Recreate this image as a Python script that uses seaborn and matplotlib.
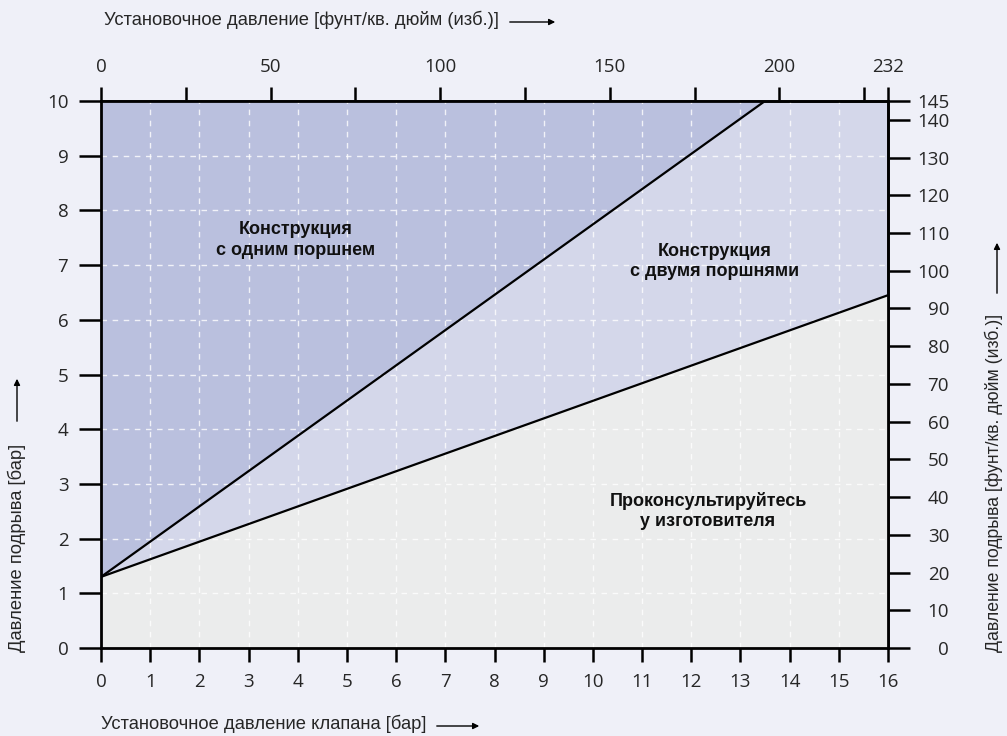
import numpy as np
import pandas as pd
import matplotlib
matplotlib.use("Agg")
import matplotlib.pyplot as plt
import seaborn as sns

# Граничные линии (бар)
single_x = [0, 13.5]
single_y = [1.3, 10]
double_x = [0, 16]
double_y = [1.3, 6.45]

bar_ticks = list(range(0, 17))
burst_ticks = list(range(0, 11))
psi_top_ticks = [0, 25, 50, 75, 100, 125, 150, 175, 200, 225, 232]
psi_top_labels = ["0", "", "50", "", "100", "", "150", "", "200", "", "232"]
psi_right_ticks = list(range(0, 141, 10)) + [145]

region_labels = [
    ("Конструкция\nс одним поршнем", 3.95, 7.46),
    ("Конструкция\nс двумя поршнями", 12.48, 7.06),
    ("Проконсультируйтесь\nу изготовителя", 12.34, 2.5),
]

BG = "#eff0f8"
DARK = "#bac0de"
MID = "#d4d7ea"
LIGHT = "#ebecec"
PSI = 14.5

sns.set_theme(style="white")
plt.rcParams["font.family"] = ["Liberation Sans", "DejaVu Sans"]

fig = plt.figure(figsize=(10.07, 7.36), dpi=100, facecolor=BG)
ax = fig.add_axes([101 / 1007, 88 / 736, 787 / 1007, 547 / 736])
ax.set_facecolor(MID)

df_single = pd.DataFrame({"x": single_x, "y": single_y})
df_double = pd.DataFrame({"x": double_x, "y": double_y})

ax.fill_between(df_single["x"], df_single["y"], 10, color=DARK, lw=0, zorder=1)
ax.fill_between(df_double["x"], 0, df_double["y"], color=LIGHT, lw=0, zorder=1)

for v in bar_ticks[1:-1]:
    ax.axvline(v, color="white", lw=1, ls=(0, (4, 4)), alpha=0.8, zorder=2)
for v in burst_ticks[1:-1]:
    ax.axhline(v, color="white", lw=1, ls=(0, (4, 4)), alpha=0.8, zorder=2)

sns.lineplot(data=df_single, x="x", y="y", color="black", lw=1.6, ax=ax, zorder=3)
sns.lineplot(data=df_double, x="x", y="y", color="black", lw=1.6, ax=ax, zorder=3)

ax.set_xlim(0, 16)
ax.set_ylim(0, 10)
ax.set_xticks(bar_ticks)
ax.set_yticks(burst_ticks)
ax.set_xlabel("")
ax.set_ylabel("")
for s in ax.spines.values():
    s.set_visible(True)
    s.set_color("black")
    s.set_linewidth(2)

xtick_kw = dict(length=10, width=1.8, color="black", labelsize=13.5, pad=8)
ytick_kw = dict(length=16, width=1.8, color="black", labelsize=13.5, pad=7.5)
ax.tick_params(axis="x", direction="out", bottom=True, **xtick_kw)
ax.tick_params(axis="y", direction="out", left=True, **ytick_kw)

top = ax.secondary_xaxis("top", functions=(lambda b: b * PSI, lambda p: p / PSI))
top.set_xticks(psi_top_ticks)
top.set_xticklabels(psi_top_labels)
top.tick_params(**xtick_kw)
top.spines["top"].set_linewidth(2)

right = ax.secondary_yaxis("right", functions=(lambda b: b * PSI, lambda p: p / PSI))
right.set_yticks(psi_right_ticks)
right.tick_params(length=16, width=1.8, color="black", labelsize=13.5, pad=28)
right.spines["right"].set_linewidth(2)

for lbl in (ax.get_xticklabels() + ax.get_yticklabels()
            + top.get_xticklabels() + right.get_yticklabels()):
    lbl.set_fontfamily(["Open Sans", "DejaVu Sans"])
    lbl.set_fontsize(13.5)
for lbl in right.get_yticklabels():
    lbl.set_horizontalalignment("right")

for txt, x, y in region_labels:
    ax.text(x, y, txt, ha="center", va="center", fontsize=13, fontweight="bold",
            color="#111111", linespacing=1.25, zorder=4)

arrow = dict(arrowstyle="-|>", color="black", lw=1, mutation_scale=9)

def px(x, y):
    return (x / 1007, 1 - y / 736)

fig.text(*px(104, 20), "Установочное давление [фунт/кв. дюйм (изб.)]",
         fontsize=13.2, va="center", ha="left")
fig.add_artist(plt.Annotation("", xy=px(558, 22), xytext=px(507, 22),
                              xycoords="figure fraction", arrowprops=arrow))

fig.text(*px(101, 724), "Установочное давление клапана [бар]",
         fontsize=13.2, va="center", ha="left")
fig.add_artist(plt.Annotation("", xy=px(482, 726), xytext=px(434, 726),
                              xycoords="figure fraction", arrowprops=arrow))

fig.text(*px(17, 652), "Давление подрыва [бар]", fontsize=13.2, rotation=90,
         va="bottom", ha="center")
fig.add_artist(plt.Annotation("", xy=px(17, 376), xytext=px(17, 424),
                              xycoords="figure fraction", arrowprops=arrow))

fig.text(*px(994, 652), "Давление подрыва [фунт/кв. дюйм (изб.)]", fontsize=12.7,
         rotation=90, va="bottom", ha="center")
fig.add_artist(plt.Annotation("", xy=px(997, 240), xytext=px(997, 296),
                              xycoords="figure fraction", arrowprops=arrow))

fig.savefig("out.png", dpi=100, facecolor=BG)
